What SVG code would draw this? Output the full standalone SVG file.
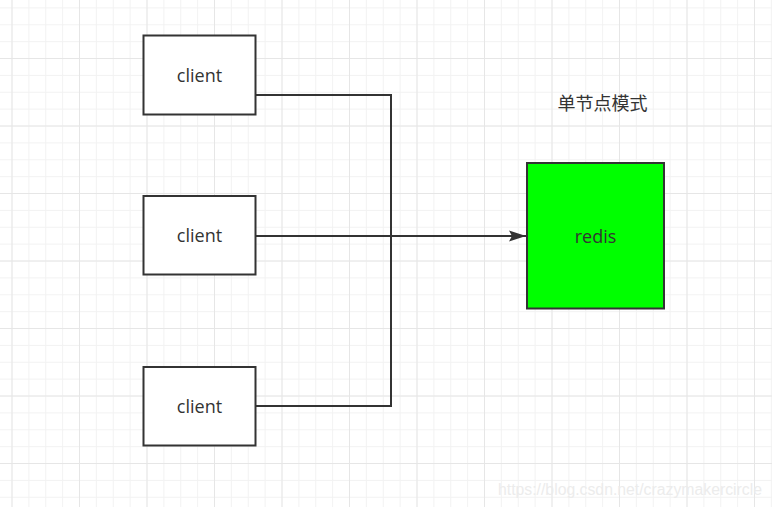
<svg xmlns="http://www.w3.org/2000/svg" width="772" height="507" viewBox="0 0 772 507">
<defs>
<pattern id="minor" patternUnits="userSpaceOnUse" x="11.5" y="7.4" width="16.875" height="16.875">
<path d="M0.5,0 V16.875 M0,0.5 H16.875" stroke="#f2f2f2" stroke-width="1" fill="none"/>
</pattern>
<pattern id="major" patternUnits="userSpaceOnUse" x="11.5" y="58" width="67.5" height="67.5">
<path d="M0.5,0 V67.5 M0,0.5 H67.5" stroke="#e6e6e6" stroke-width="1" fill="none"/>
</pattern>
<marker id="arrow" markerUnits="userSpaceOnUse" markerWidth="18" markerHeight="12" refX="17" refY="6" orient="auto">
<path d="M0,0.5 L17,6 L0,11.5 L3,6 Z" fill="#333333"/>
</marker>
</defs>
<style>
.box{fill:#ffffff;stroke:#333333;stroke-width:2}
.lbl{font-family:"Open Sans","Noto Sans CJK SC",sans-serif;font-size:18px;fill:#333333;text-anchor:middle}
.conn{fill:none;stroke:#333333;stroke-width:2}
</style>
<rect width="772" height="507" fill="#ffffff"/>
<rect width="772" height="507" fill="url(#minor)"/>
<rect width="772" height="507" fill="url(#major)"/>
<g id="connectors">
<path class="conn" d="M256,95 H391 V236 H512"/>
<path class="conn" d="M256,406 H391 V236 H512"/>
<path class="conn" d="M256,236 H526" marker-end="url(#arrow)"/>
</g>
<g id="client1">
<rect class="box" x="143.5" y="35.5" width="112" height="79"/>
<text class="lbl" x="199.5" y="82">client</text>
</g>
<g id="client2">
<rect class="box" x="143.5" y="196" width="112" height="78.5"/>
<text class="lbl" x="199.5" y="242">client</text>
</g>
<g id="client3">
<rect class="box" x="143.5" y="367" width="112" height="78.5"/>
<text class="lbl" x="199.5" y="413">client</text>
</g>
<g id="redis">
<rect class="box" x="527" y="163" width="137" height="145.5" style="fill:#00ff00"/>
<text class="lbl" x="595.5" y="243">redis</text>
</g>
<g id="title">
<text class="lbl" x="602.5" y="110">单节点模式</text>
</g>
<text x="498" y="495" textLength="264" lengthAdjust="spacingAndGlyphs" font-family="Liberation Sans, sans-serif" font-size="16" fill="#ececec">https://blog.csdn.net/crazymakercircle</text>
</svg>
